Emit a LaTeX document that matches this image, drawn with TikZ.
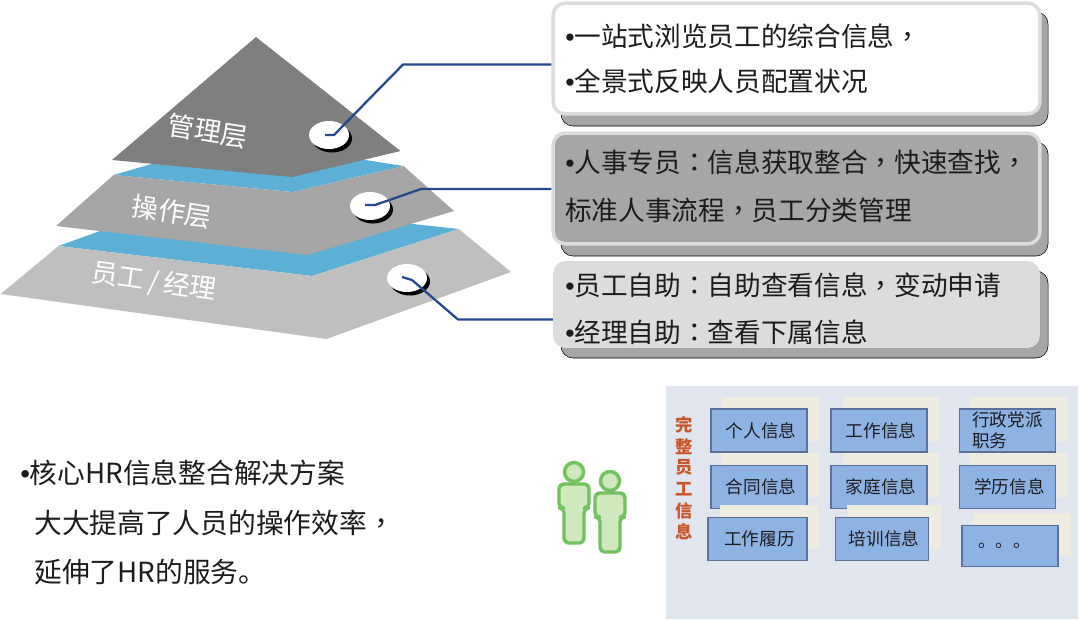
\documentclass[tikz,border=0pt]{standalone}
\usepackage{fontspec}
\setmainfont{Noto Sans CJK SC}
\newfontfamily\tcf{Noto Sans CJK TC}
\newfontfamily\latf{Liberation Sans}
\usetikzlibrary{shapes.geometric}
\definecolor{band}{HTML}{5CAFD5}
\definecolor{lay1}{HTML}{7F7F7F}
\definecolor{lay2}{HTML}{A6A6A6}
\definecolor{lay3}{HTML}{BFBFBF}
\definecolor{wire}{HTML}{24488F}
\definecolor{cardedge}{HTML}{DCDCDC}
\definecolor{cardshadow}{HTML}{A6A6A6}
\definecolor{panel}{HTML}{E1E5EE}
\definecolor{cream}{HTML}{EEEBE1}
\definecolor{infofill}{HTML}{8DB3E2}
\definecolor{infoedge}{HTML}{5B7199}
\definecolor{titleor}{HTML}{C9572A}
\definecolor{pfill}{HTML}{CFE8BC}
\definecolor{pedge}{HTML}{72C262}
\definecolor{ink}{HTML}{1C1C1C}
\newcommand{\cma}{{\tcf ，}}
\newcommand{\cln}{{\tcf ：}}
\newcommand{\bul}{{\latf •}}
\tikzset{
  x=0.75pt,y=-0.75pt,
  layerlabel/.style={text=white,font=\fontsize{20pt}{22pt}\selectfont,inner sep=0pt},
  discnode/.style={ellipse,fill=white,minimum width=30pt,minimum height=21pt,inner sep=0pt},
  discshadow/.style={ellipse,fill=black,minimum width=30pt,minimum height=21pt,inner sep=0pt},
  connector/.style={draw=wire,line width=1.7pt,line join=round},
  cardbox/.style={rounded corners=9pt,inner sep=0pt,minimum width=365pt},
  cardline/.style={anchor=west,inner sep=0pt,text=ink,font=\fontsize{20pt}{22pt}\selectfont},
  shadowbox/.style={fill=cardshadow,rounded corners=9pt},
  infobox/.style={fill=infofill,draw=infoedge,line width=1.2pt,inner sep=0pt,text=ink,font=\fontsize{13.2pt}{16pt}\selectfont},
  creambox/.style={fill=cream},
  bigtext/.style={anchor=west,inner sep=0pt,text=ink,font=\fontsize{20.8pt}{23pt}\selectfont},
  person/.style={fill=pfill,draw=pedge,line width=2.6pt,line join=round,rounded corners=3.5pt},
  vtitle/.style={inner sep=0pt,text=titleor,font=\bfseries\fontsize{13pt}{14pt}\selectfont},
}
\begin{document}
\begin{tikzpicture}
\useasboundingbox (0,0) rectangle (1080,621);
% pyramid
\fill[band] (58.5,246) -- (100,231) -- (413,224) -- (458.7,229) -- (312,276) -- cycle;
\fill[lay3] (58.5,246) -- (312,276) -- (458.7,229) -- (511,272) -- (326.5,339) -- (0.7,294) -- cycle;
\fill[band] (113.6,175) -- (151.5,164) -- (365,160) -- (403.6,166) -- (292.7,192) -- cycle;
\fill[lay2] (113.6,175) -- (292.7,192) -- (403.6,166) -- (454,211) -- (307.5,255) -- (56,226) -- cycle;
\fill[lay1] (256,37) -- (400.5,151) -- (292,177) -- (112,160) -- cycle;
\node[layerlabel,rotate=-9] (lab1) at (208,131) {管理层};
\node[layerlabel,rotate=-9] (lab2) at (172,212) {操作层};
\node[layerlabel,rotate=-8] (lab3) at (154,282) {员工\,/\,经理};
% discs
\foreach \n/\cx/\cy in {a/329/135,b/370/206,c/407/278}{
  \node[discshadow] (s\n) at (\cx+3,\cy+3.5) {};
  \node[discnode] (d\n) at (\cx,\cy) {};
}
\coordinate (ja) at (403,64.5);
\coordinate (jb) at (421,189);
\coordinate (jc) at (458,319.5);
\coordinate (sa) at (325,135);
\coordinate (ka) at (334,135);
\coordinate (sb) at (365,205);
\coordinate (kb) at (375,205);
\coordinate (sc) at (402,277);
\coordinate (kc) at (412,280);
% cards
\draw[shadowbox] (561,12) rectangle (1048,126);
\draw[shadowbox] (561,142) rectangle (1048,256);
\draw[shadowbox] (561,271) rectangle (1048,358);
\node[cardbox,fill=white,draw=cardedge,line width=2.6pt,minimum height=83pt] (card1) at (796.5,58.5) {};
\node[cardbox,fill=lay2,draw=cardedge,line width=2.6pt,minimum height=83pt] (card2) at (796.5,188.5) {};
\node[cardbox,fill=cardedge,minimum height=65pt] (card3) at (796.5,304.5) {};
\draw[connector] (sa) -- (ka) -- (ja) -- (ja -| card1.west);
\draw[connector] (sb) -- (kb) -- (jb) -- (jb -| card2.west);
\draw[connector] (sc) -- (kc) -- (jc) -- (jc -| card3.west);
\node[cardline] (t1a) at (565,36) {\bul 一站式浏览员工的综合信息\cma};
\node[cardline] (t1b) at (565,81) {\bul 全景式反映人员配置状况};
\node[cardline] (t2a) at (565,162) {\bul 人事专员\cln 信息获取整合\cma 快速查找\cma};
\node[cardline] (t2b) at (565,210) {标准人事流程\cma 员工分类管理};
\node[cardline] (t3a) at (565,285) {\bul 员工自助\cln 自助查看信息\cma 变动申请};
\node[cardline] (t3b) at (565,332) {\bul 经理自助\cln 查看下属信息};
% left text
\node[bigtext] (b1) at (20,473) {\bul 核心HR信息整合解决方案};
\node[bigtext] (b2) at (34,523) {大大提高了人员的操作效率\cma};
\node[bigtext] (b3) at (34,572) {延伸了HR的服务。};
% people
\draw[person] (564,543) -- (564,508) -- (559,508) -- (559,484) -- (589,484) -- (589,508) -- (584,508) -- (584,543) -- cycle;
\draw[person,fill=pfill] (574,472) circle (9.5);
\draw[person] (600,552) -- (600,517) -- (595,517) -- (595,493) -- (625,493) -- (625,517) -- (620,517) -- (620,552) -- cycle;
\draw[person,fill=pfill] (610,481) circle (9.5);
% panel
\fill[panel] (666,386) rectangle (1078,619);
\foreach \t [count=\i from 0] in {完,整,员,工,信,息}{
  \node[vtitle] (v\i) at (684,{425+21.4*\i}) {\t};
}
\fill[creambox] (721.5,397) rectangle (819,441);
\fill[creambox] (843,397) rectangle (939,441);
\fill[creambox] (970,397) rectangle (1068,441);
\fill[creambox] (721.5,453) rectangle (819,497);
\fill[creambox] (843,453) rectangle (939,497);
\fill[creambox] (970,453) rectangle (1068,497);
\node[infobox,minimum width=72pt,minimum height=32pt] (i1) at (759,430.5) {\hspace{3pt}个人信息};
\node[infobox,minimum width=72pt,minimum height=32pt] (i2) at (879,430.5) {\hspace{3pt}工作信息};
\node[infobox,minimum width=72pt,minimum height=32pt,align=left] (i3) at (1007.5,430.5) {行政党派\\[-0.5pt]职务\hspace{26pt}};
\node[infobox,minimum width=72pt,minimum height=32pt] (i4) at (759,487) {\hspace{3pt}合同信息};
\node[infobox,minimum width=72pt,minimum height=32pt] (i5) at (879,487) {\hspace{3pt}家庭信息};
\node[infobox,minimum width=72pt,minimum height=32pt] (i6) at (1007.5,487) {\hspace{3pt}学历信息};
\fill[creambox] (720,505) rectangle (819,549);
\fill[creambox] (846.5,505) rectangle (941,549);
\fill[creambox] (973,513) rectangle (1071,556);
\node[infobox,minimum width=74pt,minimum height=32pt] (i7) at (757.5,539) {\hspace{3pt}工作履历};
\node[infobox,minimum width=70pt,minimum height=32pt] (i8) at (882,539) {\hspace{3pt}培训信息};
\node[infobox,minimum width=72pt,minimum height=31pt] (i9) at (1010,546) {\hspace{-8pt}\raisebox{-3pt}{。。。}};
\end{tikzpicture}
\end{document}
